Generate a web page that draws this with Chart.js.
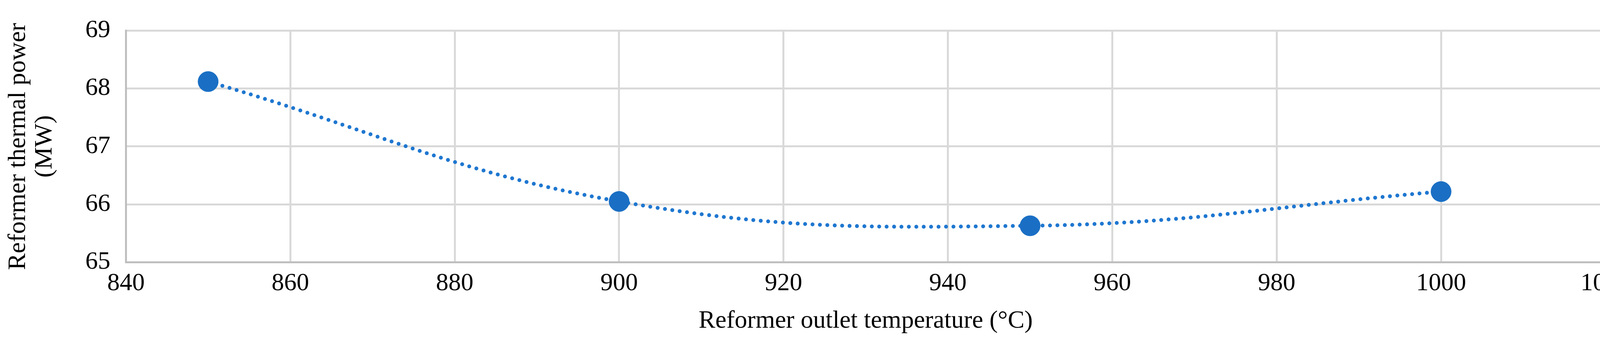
<!DOCTYPE html>
<html><head><meta charset="utf-8">
<script src="https://cdn.jsdelivr.net/npm/chart.js@4"></script>
<style>html,body{margin:0;padding:0;background:#fff}#w{width:4190px;height:873px}</style>
</head><body><div id="w"><canvas id="c"></canvas></div>
<script>
const temps = [850, 900, 950, 1000];
const power = [68.12, 66.05, 65.63, 66.22];
const xTicks = [840, 860, 880, 900, 920, 940, 960, 980, 1000, 1020];
const yTicks = [65, 66, 67, 68, 69];
const pts = temps.map((t, i) => ({x: t, y: power[i]}));
const F = 'Liberation Serif';
new Chart(document.getElementById('c'), {
  type: 'scatter',
  data: {datasets: [
    {data: pts, showLine: true, borderColor: '#1f77d0', borderWidth: 10, borderDash: [0, 19], borderCapStyle: 'round', tension: 0.4, pointRadius: 0, fill: false, order: 2},
    {data: pts, showLine: false, backgroundColor: '#1a6fc4', borderColor: '#1a6fc4', pointRadius: 26, order: 1}
  ]},
  options: {
    responsive: true, maintainAspectRatio: false, animation: false,
    layout: {padding: {left: 10, right: 40, top: 14, bottom: 8}},
    plugins: {legend: {display: false}, tooltip: {enabled: false}},
    scales: {
      x: {type: 'linear', min: 840, max: 1020,
        afterBuildTicks: a => { a.ticks = xTicks.map(v => ({value: v})); },
        grid: {color: '#d9d9d9', lineWidth: 5, drawTicks: false},
        border: {color: '#bfbfbf', width: 5},
        ticks: {color: '#000', font: {family: F, size: 64}, padding: 16, callback: v => String(v)},
        title: {display: true, text: 'Reformer outlet temperature (°C)', color: '#000', font: {family: F, size: 64}, padding: {top: 4}}
      },
      y: {min: 65, max: 69,
        afterBuildTicks: a => { a.ticks = yTicks.map(v => ({value: v})); },
        grid: {color: '#d9d9d9', lineWidth: 5, drawTicks: false},
        border: {color: '#bfbfbf', width: 5},
        ticks: {color: '#000', font: {family: F, size: 64}, padding: 40, callback: v => String(v)},
        title: {display: true, text: ['Reformer thermal power', '(MW)'], color: '#000', font: {family: F, size: 64, lineHeight: 1.05}, padding: {bottom: 30}}
      }
    }
  }
});
</script></body></html>
